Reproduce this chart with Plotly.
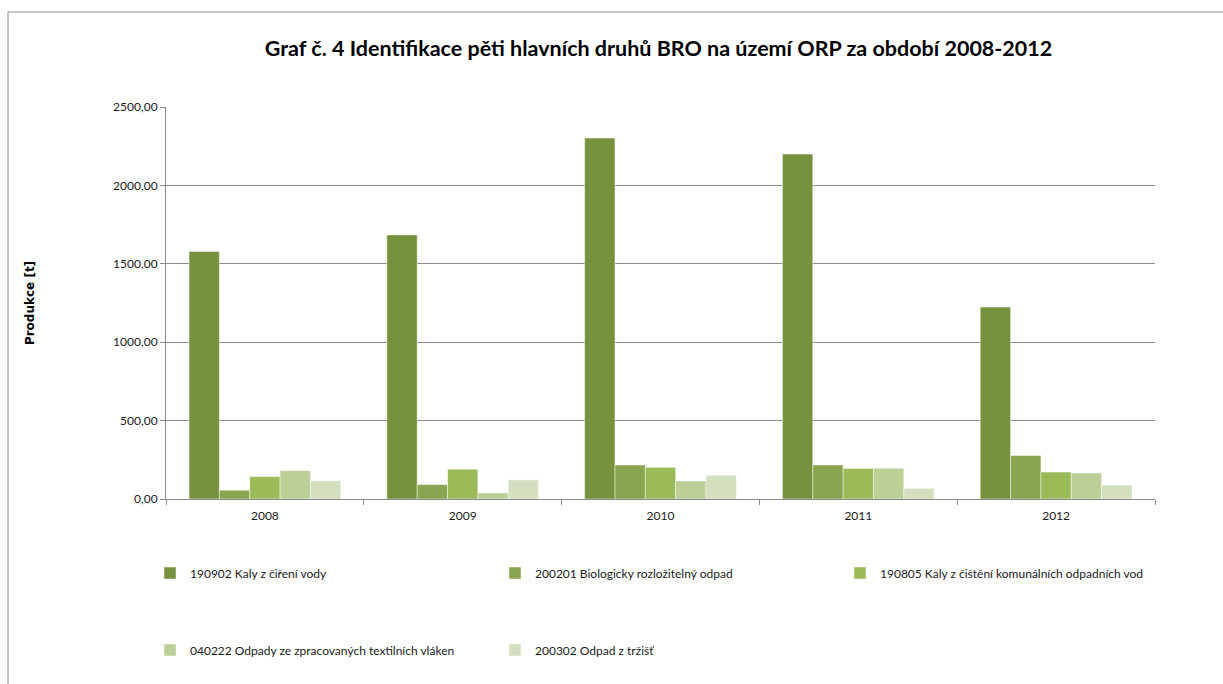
import plotly.graph_objects as go

years = ["2008", "2009", "2010", "2011", "2012"]

series_names = [
    "190902 Kaly z čiření vody",
    "200201 Biologicky rozložitelný odpad",
    "190805 Kaly z čištění komunálních odpadních vod",
    "040222 Odpady ze zpracovaných textilních vláken",
    "200302 Odpad z tržišť",
]

kaly_cireni = [1579, 1684, 2302, 2200, 1224]
bio_odpad = [56, 92, 217, 217, 277]
kaly_cov = [143, 190, 202, 195, 172]
textil = [181, 39, 115, 196, 166]
trziste = [116, 122, 151, 68, 89]

series_values = [kaly_cireni, bio_odpad, kaly_cov, textil, trziste]
colors = ["#77923f", "#89a54f", "#9bbb59", "#bbcf96", "#d3dfbf"]
legend_ids = ["legend", "legend", "legend", "legend2", "legend2"]

W, H = 1223, 684
L, R, T, B = 166, 1155, 107, 499


def px_x(x):
    return (x - L) / (R - L)


def px_y(y):
    return (B - y) / (B - T)


fig = go.Figure()
for name, vals, col, lg in zip(series_names, series_values, colors, legend_ids):
    fig.add_trace(go.Bar(
        x=years, y=vals, name=name, legend=lg,
        marker=dict(color=col, line=dict(color="rgba(255,255,255,0.45)", width=1)),
    ))

legend_font = dict(family="Lato, Open Sans, sans-serif", size=12, color="#1a1a1a")

fig.update_layout(
    width=W, height=H,
    margin=dict(l=L, r=W - R, t=T, b=H - B),
    paper_bgcolor="white", plot_bgcolor="white",
    barmode="group", bargap=0.233, bargroupgap=0,
    separators=",.",
    title=dict(
        text="<b>Graf č. 4 Identifikace pěti hlavních druhů BRO na území ORP za období 2008-2012</b>",
        x=px_x(658.5), xref="paper", xanchor="center",
        y=1 - 48 / H, yref="container", yanchor="middle",
        font=dict(family="Lato, Open Sans, sans-serif", size=21.5, color="#000000"),
    ),
    xaxis=dict(
        type="category", showgrid=False,
        showline=True, linecolor="#8c8c8c", linewidth=1,
        ticks="outside", tickson="boundaries", ticklen=5, tickcolor="#8c8c8c",
        tickfont=dict(family="Lato, Open Sans, sans-serif", size=12, color="#1a1a1a"),
        ticklabelstandoff=6,
    ),
    yaxis=dict(
        range=[0, 2500], dtick=500, tickformat=".2f",
        showgrid=True, gridcolor="#8c8c8c", gridwidth=1,
        showline=True, linecolor="#8c8c8c", linewidth=1,
        ticks="outside", ticklen=5, tickcolor="#8c8c8c",
        tickfont=dict(family="Lato, Open Sans, sans-serif", size=12, color="#1a1a1a"),
        zeroline=False,
        title=dict(text="<b>Produkce [t]</b>",
                   font=dict(family="DejaVu Sans, sans-serif", size=12, color="#000000"),
                   standoff=75),
    ),
    legend=dict(
        orientation="h", x=px_x(150), xanchor="left", y=px_y(573), yanchor="middle",
        entrywidth=300, entrywidthmode="pixels",
        font=legend_font, itemwidth=30, bgcolor="rgba(0,0,0,0)",
    ),
    legend2=dict(
        orientation="h", x=px_x(150), xanchor="left", y=px_y(650), yanchor="middle",
        entrywidth=300, entrywidthmode="pixels",
        font=legend_font, itemwidth=30, bgcolor="rgba(0,0,0,0)",
    ),
    shapes=[
        dict(type="line", xref="paper", yref="paper",
             x0=px_x(8), y0=px_y(12), x1=px_x(W), y1=px_y(12),
             line=dict(color="#8c8c8c", width=1)),
        dict(type="line", xref="paper", yref="paper",
             x0=px_x(8), y0=px_y(12), x1=px_x(8), y1=px_y(H),
             line=dict(color="#8c8c8c", width=1)),
    ],
)

fig.write_html("out.html", config={"displayModeBar": False})
